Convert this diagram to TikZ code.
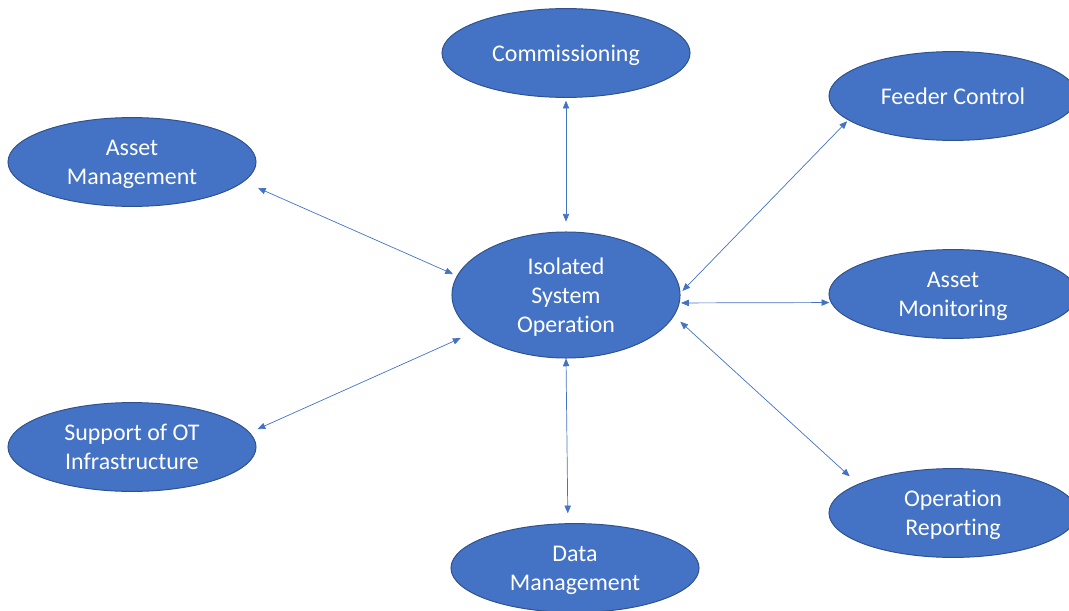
\documentclass[tikz,border=0pt]{standalone}
\usepackage{fontspec}
\setmainfont{Carlito}[Ligatures=NoCommon]
\usetikzlibrary{shapes.geometric,arrows.meta}
\definecolor{bubblefill}{HTML}{4472C4}
\definecolor{bubbleline}{HTML}{2F528F}

\begin{document}
\begin{tikzpicture}[x=0.025cm,y=-0.025cm]
\tikzset{bubble/.style={ellipse,draw=bubbleline,line width=0.7pt,fill=bubblefill,
           text=white,align=center,inner sep=0pt,text depth=-1.5pt,
           minimum width=6.2cm,minimum height=2.22cm,
           font=\fontsize{17}{20.5}\selectfont},
         link/.style={draw=bubblefill,line width=0.5pt,
           {Triangle[length=5.5pt,width=4.5pt]}-{Triangle[length=5.5pt,width=4.5pt]}}}
\useasboundingbox (0,0) rectangle (1069,610);

\node[bubble,minimum width=5.7cm,minimum height=3.15cm] (iso) at (566,295)
  {Isolated\\System\\Operation};
\node[bubble] (comm) at (566,53)  {Commissioning};
\node[bubble] (am)   at (132,162) {Asset\\Management};
\node[bubble] (sup)  at (132,447) {Support of OT\\Infrastructure};
\node[bubble] (data) at (575,568) {Data\\Management};
\node[bubble] (feed) at (953,96)  {Feeder Control};
\node[bubble] (mon)  at (953,294) {Asset\\Monitoring};
\node[bubble] (rep)  at (953,513) {Operation\\Reporting};

% spokes out of the centre bubble
\draw[link,shorten <=2pt,shorten >=7pt]   (comm.270) -- (iso.90);
\draw[link,shorten <=11pt,shorten >=3pt]  (am.-10)   -- (iso.170);
\draw[link,shorten <=6pt,shorten >=10pt]  (sup.7)    -- (iso.202);
\draw[link,shorten <=0pt,shorten >=7pt]   (iso.270)  -- (data.99);
\draw[link,shorten <=2pt,shorten >=1pt]   (iso.1)    -- (feed.193);
\draw[link,shorten <=1pt,shorten >=1pt]   (iso.-4)   -- (mon.184);
\draw[link,shorten <=6pt,shorten >=8pt]   (iso.-11)  -- (rep.163);
\end{tikzpicture}
\end{document}
